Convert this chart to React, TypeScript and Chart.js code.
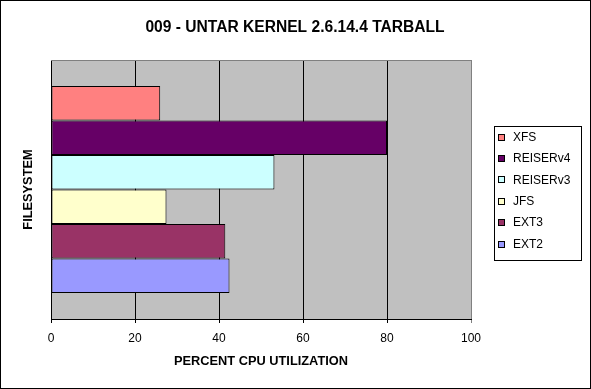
import React, { useEffect, useRef } from "react";
import { Chart, registerables } from "chart.js";

Chart.register(...registerables);

const TITLE = "009 - UNTAR KERNEL 2.6.14.4 TARBALL";
const X_TITLE = "PERCENT CPU UTILIZATION";
const Y_TITLE = "FILESYSTEM";
const filesystems = ["XFS", "REISERv4", "REISERv3", "JFS", "EXT3", "EXT2"];
const cpuValues = [26, 80, 53.2, 27.5, 41.5, 42.5];
const colors = ["#FF8080", "#660066", "#CCFFFF", "#FFFFCC", "#993366", "#9999FF"];
const xTicks = [0, 20, 40, 60, 80, 100];

const FONT = "'Liberation Sans', Arial, sans-serif";

export default function App() {
  const ref = useRef<HTMLCanvasElement | null>(null);

  useEffect(() => {
    document.body.style.margin = "0";
    const canvas = ref.current!;
    const decor = {
      id: "decor",
      beforeDraw(chart: any) {
        const { ctx, chartArea: a } = chart;
        ctx.save();
        ctx.fillStyle = "#FFFFFF";
        ctx.fillRect(0, 0, chart.width, chart.height);
        ctx.fillStyle = "#C0C0C0";
        ctx.fillRect(a.left, a.top, a.right - a.left, a.bottom - a.top);
        ctx.restore();
      },
      afterDraw(chart: any) {
        const { ctx, chartArea: a } = chart;
        ctx.save();
        // plot top border
        ctx.strokeStyle = "#808080";
        ctx.lineWidth = 1;
        ctx.beginPath();
        ctx.moveTo(a.left, Math.round(a.top) + 0.5);
        ctx.lineTo(a.right + 0.5, Math.round(a.top) + 0.5);
        ctx.stroke();
        // outer border
        ctx.strokeStyle = "#000000";
        ctx.strokeRect(0.5, 0.5, chart.width - 1, chart.height - 1);
        // title
        ctx.fillStyle = "#000";
        ctx.textAlign = "center";
        ctx.textBaseline = "middle";
        ctx.font = `bold 15.6px ${FONT}`;
        ctx.fillText(TITLE, 295, 28);
        // x title
        ctx.font = `bold 12.8px ${FONT}`;
        ctx.fillText(X_TITLE, (a.left + a.right) / 2, 361);
        // y title
        ctx.save();
        ctx.translate(28, (a.top + a.bottom) / 2);
        ctx.rotate(-Math.PI / 2);
        ctx.fillText(Y_TITLE, 0, 0);
        ctx.restore();
        // legend
        const lx = 494, ly = 126, lw = 87, lh = 134;
        ctx.strokeStyle = "#000";
        ctx.strokeRect(lx + 0.5, ly + 0.5, lw, lh);
        ctx.font = `12px ${FONT}`;
        ctx.textAlign = "left";
        filesystems.forEach((name, i) => {
          const cy = 137 + i * 21.4;
          const my = Math.round(cy - 3.5);
          ctx.fillStyle = colors[i];
          ctx.fillRect(498, my, 7, 7);
          ctx.strokeStyle = "#000";
          ctx.strokeRect(498.5, my + 0.5, 6, 6);
          ctx.fillStyle = "#000";
          ctx.fillText(name, 513, cy + 0.5);
        });
        ctx.restore();
      },
    };

    const chart = new Chart(canvas, {
      type: "bar",
      data: {
        labels: [""],
        datasets: filesystems.map((name, i) => ({
          label: name,
          data: [cpuValues[i]],
          backgroundColor: colors[i],
          borderColor: "#000000",
          borderWidth: 1,
          borderSkipped: false,
          categoryPercentage: 0.8,
          barPercentage: 1.0,
        })),
      },
      options: {
        indexAxis: "y",
        animation: false,
        responsive: false,
        devicePixelRatio: 1,
        layout: { padding: { top: 60, right: 120, left: 0, bottom: 0 } },
        plugins: { legend: { display: false }, title: { display: false }, tooltip: { enabled: false } },
        scales: {
          x: {
            min: 0,
            max: 100,
            afterBuildTicks: (scale: any) => {
              scale.ticks = xTicks.map((v) => ({ value: v }));
            },
            afterFit: (scale: any) => {
              scale.height = 70;
            },
            grid: {
              color: (c: any) => (c.tick && c.tick.value === 100 ? "#808080" : "#000000"),
              lineWidth: 1,
              tickLength: 4,
              drawOnChartArea: true,
            },
            border: { color: "#000000", width: 1 },
            ticks: { color: "#000", font: { family: FONT, size: 12 }, padding: 8, maxRotation: 0 },
          },
          y: {
            afterFit: (scale: any) => {
              scale.width = 51;
            },
            grid: { display: false },
            border: { color: "#000000", width: 1 },
            ticks: { display: false },
          },
        },
      },
      plugins: [decor],
    });
    return () => chart.destroy();
  }, []);

  return <canvas ref={ref} width={591} height={389} style={{ display: "block" }} />;
}
